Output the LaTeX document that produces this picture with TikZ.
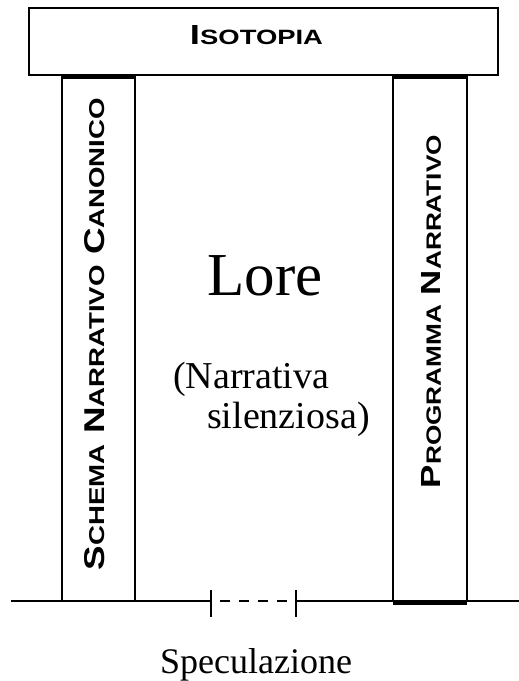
\documentclass[tikz,border=0pt]{standalone}
\usepackage{fontspec}
\usepackage{graphicx}
\setmainfont{Liberation Serif}
\newfontfamily\capsfont{Liberation Sans}
\newcommand\scword[2]{{\fontsize{10}{12}\selectfont #1}{\fontsize{7.5}{9}\selectfont #2}}
\begin{document}
\begin{tikzpicture}[x=1pt,y=-1pt,
  frame/.style={draw=black, line width=2pt, inner sep=0pt, outer sep=0pt},
  thickline/.style={draw=black, line width=4pt},
  baseline/.style={draw=black, line width=2pt},
  captext/.style={font=\capsfont\bfseries, inner sep=0pt},
  serif/.style={inner sep=0pt}]
\useasboundingbox (0,0) rectangle (519,681);
% top beam
\node[frame, minimum width=469pt, minimum height=67pt] (isobox) at (263.5,41.5) {};
\node[captext] (isotxt) at (256.5,35.5) {\resizebox{133pt}{19pt}{\scword{I}{SOTOPIA}}};
% columns
\node[frame, minimum width=73pt, minimum height=526pt, anchor=south west] (snc) at (62,601) {};
\node[frame, minimum width=74pt, minimum height=526pt, anchor=south west] (pn) at (393,601) {};
\draw[thickline] ([yshift=-2pt]snc.north west) -- ([yshift=-2pt]snc.north east);
\draw[thickline] ([yshift=-2pt]pn.north west) -- ([yshift=-2pt]pn.north east);
\draw[thickline] ([yshift=-2pt]pn.south west) -- ([yshift=-2pt]pn.south east);
\node[captext, rotate=90] (snctxt) at (95,334) {\resizebox{472pt}{20pt}{\scword{S}{CHEMA} \scword{N}{ARRATIVO} \scword{C}{ANONICO}}};
\node[captext, rotate=90] (pntxt) at (431.5,311.5) {\resizebox{353pt}{19pt}{\scword{P}{ROGRAMMA} \scword{N}{ARRATIVO}}};
% baseline
\coordinate (bl) at (11,601);
\coordinate (t1) at (211,601);
\coordinate (t2) at (296,601);
\coordinate (br) at (519,601);
\draw[baseline] (bl) -- (t1);
\draw[baseline, dash pattern=on 10pt off 9pt, dash phase=10pt] (t1) -- (t2);
\draw[baseline] (t2) -- (br);
\draw[baseline] ([yshift=11pt]t1) -- ([yshift=-16pt]t1);
\draw[baseline] ([yshift=11pt]t2) -- ([yshift=-16pt]t2);
% central texts
\node[serif, anchor=base, font=\fontsize{61}{62}\selectfont] (lore) at (265,295) {Lore};
\node[serif, anchor=base west, font=\fontsize{38}{41}\selectfont] (narr) at (173,388) {(Narrativa};
\node[serif, anchor=base west, font=\fontsize{38}{41}\selectfont] (sil) at (207,428) {silenziosa)};
\node[serif, anchor=base, font=\fontsize{36}{41}\selectfont] (spec) at (256,673) {Speculazione};
\end{tikzpicture}
\end{document}
